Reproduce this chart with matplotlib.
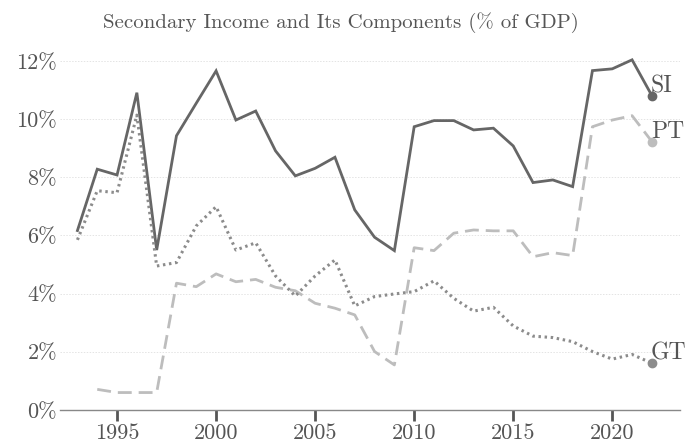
import matplotlib
matplotlib.use('Agg')
import matplotlib.pyplot as plt

plt.rcParams['font.family'] = ['cmr10', 'DejaVu Serif']
plt.rcParams['axes.formatter.use_mathtext'] = True

years = list(range(1993, 2023))

si = [6.17, 8.28, 8.08, 10.91, 5.50, 9.43, 10.55, 11.66, 9.97, 10.28,
      8.91, 8.05, 8.31, 8.69, 6.88, 5.94, 5.48, 9.74, 9.95, 9.95,
      9.63, 9.69, 9.08, 7.82, 7.91, 7.68, 11.67, 11.73, 12.04, 10.81]

# personal transfers start in 1994
pt_years = list(range(1994, 2023))
pt = [0.71, 0.60, 0.60, 0.60, 4.36, 4.24, 4.68, 4.41, 4.49, 4.22,
      4.10, 3.67, 3.50, 3.27, 2.01, 1.55, 5.58, 5.48, 6.08, 6.19,
      6.16, 6.16, 5.27, 5.41, 5.31, 9.74, 9.97, 10.12, 9.23]

gt = [5.85, 7.54, 7.47, 10.14, 4.95, 5.07, 6.33, 6.99, 5.50, 5.75,
      4.61, 3.92, 4.61, 5.16, 3.58, 3.90, 3.99, 4.07, 4.44, 3.84,
      3.40, 3.53, 2.89, 2.54, 2.49, 2.35, 2.01, 1.75, 1.91, 1.61]

yticks = [0, 2, 4, 6, 8, 10, 12]
xticks = [1995, 2000, 2005, 2010, 2015, 2020]

txt = '#555555'
c_si = '#666666'
c_pt = '#bdbdbd'
c_gt = '#8c8c8c'

fig = plt.figure(figsize=(6.85, 4.42), dpi=100)
ax = fig.add_axes([0.0876, 0.0724, 0.9054, 0.81])

ax.plot(years, si, color=c_si, lw=2.0, solid_joinstyle='miter')
ax.plot(pt_years, pt, color=c_pt, lw=2.0, ls=(0, (5, 2.5)))
ax.plot(years, gt, color=c_gt, lw=2.2, ls=(0, (0.8, 1.2)))

for xs, ys, c, lab in [(years, si, c_si, 'SI'), (pt_years, pt, c_pt, 'PT'), (years, gt, c_gt, 'GT')]:
    ax.plot(xs[-1], ys[-1], 'o', color=c, ms=6, zorder=5)
    ax.text(xs[-1] - 0.05, ys[-1] - 0.05, lab, color=txt, fontsize=17,
            ha='left', va='bottom')

ax.set_xlim(1992.12, 2023.43)
ax.set_ylim(0, 12.31)
ax.set_yticks(yticks)
ax.set_yticklabels([f'{v}%' for v in yticks])
ax.set_xticks(xticks)
ax.set_xticklabels([str(v) for v in xticks])

ax.grid(axis='y', color='#e4e4e4', lw=0.7, ls=(0, (1.5, 1.5)))
ax.set_axisbelow(True)
for s in ['top', 'right', 'left']:
    ax.spines[s].set_visible(False)
ax.spines['bottom'].set_color('#888888')
ax.spines['bottom'].set_linewidth(1.0)

ax.tick_params(axis='x', direction='out', length=8, width=2.0, color='#555555',
               labelsize=16, labelcolor=txt, pad=2)
ax.tick_params(axis='y', length=0, labelsize=16, labelcolor=txt, pad=2)

fig.text(0.497, 0.948, 'Secondary Income and Its Components (% of GDP)',
         ha='center', va='center', fontsize=15, color=txt)

fig.savefig('out.png', dpi=100)
